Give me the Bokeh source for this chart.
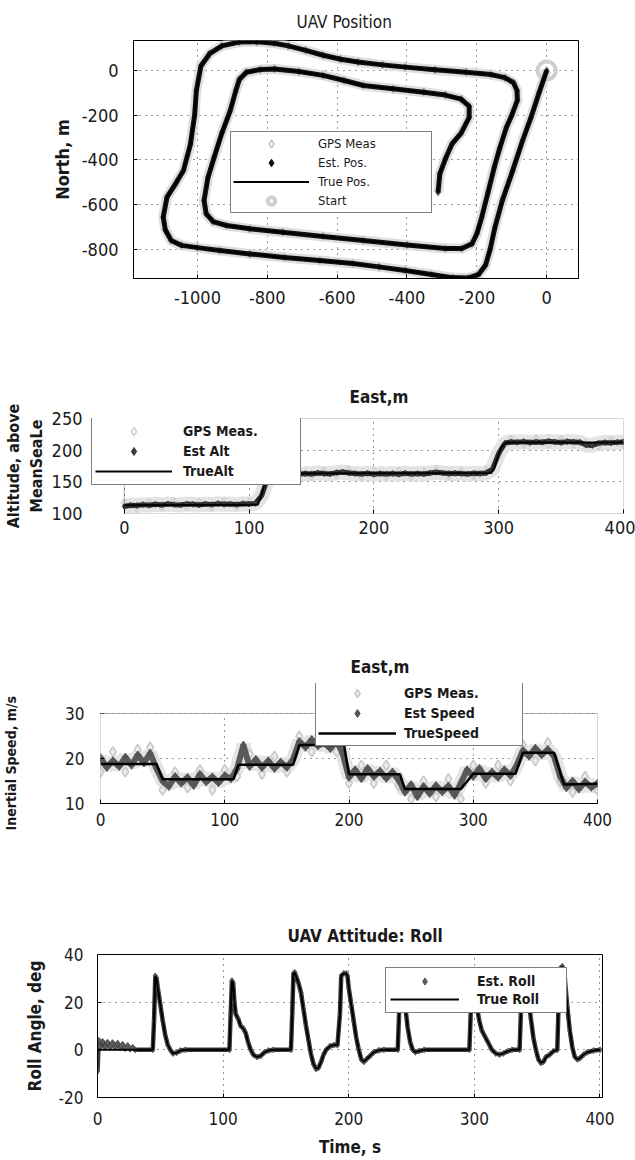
from bokeh.plotting import figure
from bokeh.models import Range1d, Legend, LegendItem, FixedTicker, BoxAnnotation
from bokeh.embed import file_html
from bokeh.resources import INLINE

FONT = "'Noto Sans Condensed', 'DejaVu Sans Condensed', 'Liberation Sans', sans-serif"
NB = "\u00a0"

# ---------------- Panel 1: UAV position (East, North in m) ----------------
pos_east = [0, -22, -45, -69, -98, -127, -148, -162, -175, -195, -225, -270, -330, -405,
            -480, -555, -650, -751, -850, -936, -1000, -1045, -1075, -1092, -1098, -1087,
            -1060, -1040, -1020, -1008, -1003, -990, -965, -930, -880, -830, -780, -740,
            -690, -640, -590, -540, -470, -405, -320, -231, -160, -120, -95, -85, -84,
            -100, -115, -135, -150, -168, -186, -200, -214, -243, -290, -400, -525, -640,
            -756, -850, -917, -955, -975, -981, -970, -952, -930, -906, -890, -880, -860,
            -820, -779, -710, -640, -580, -525, -440, -352, -290, -245, -222, -222, -245,
            -271, -290, -306, -311]
pos_north = [0, -100, -210, -313, -450, -581, -700, -800, -870, -912, -928, -926, -912, -894,
             -878, -863, -850, -836, -820, -805, -792, -782, -760, -712, -656, -566,
             -500, -447, -330, -200, -90, 20, 75, 110, 127, 128, 122, 110,
             90, 68, 50, 38, 25, 15, 3, -8, -18, -32, -55, -90, -134,
             -200, -253, -350, -432, -545, -656, -730, -775, -796, -796, -780, -760, -742,
             -723, -708, -693, -676, -640, -581, -480, -388, -280, -179, -90, -40, -8,
             4, 7, -5, -22, -45, -67, -82, -97, -110, -128, -160, -210, -280,
             -328, -395, -462, -544]
start_east = [0]
start_north = [0]
pos_xticks = [-1000, -800, -600, -400, -200, 0]
pos_yticks = [-800, -600, -400, -200, 0]

# ---------------- Panel 2: altitude ----------------
alt_t = list(range(0, 401, 5))
alt_est = [111.0, 113.0, 112.5, 114.0, 113.0, 114.5, 113.5, 115.0, 114.0, 113.5,
           115.0, 114.5, 113.5, 115.0, 114.0, 115.5, 114.5, 115.0, 114.0, 115.5,
           115.0, 116.0, 128.0, 156.0, 162.0, 163.0, 161.5, 163.5, 162.0, 163.0,
           162.5, 164.0, 163.0, 162.5, 164.5, 165.5, 164.0, 163.0, 162.5, 163.5,
           162.0, 163.0, 162.5, 163.0, 162.0, 163.5, 162.5, 163.0, 162.5, 164.0,
           165.0, 164.0, 163.0, 163.5, 163.0, 162.5, 163.5, 163.0, 164.0, 170.0,
           195.0, 211.0, 213.0, 212.5, 213.5, 212.0, 213.0, 212.5, 214.0, 213.0,
           212.0, 213.5, 213.0, 212.5, 208.0, 207.5, 211.0, 212.0, 211.5, 212.5,
           213.0]
alt_gps_t = list(range(0, 401, 10))
alt_gps = [116, 109, 117, 111, 118, 112, 117, 111, 118, 112, 118,
           131, 166, 158, 166, 159, 167, 161, 168, 159, 166,
           159, 166, 159, 166, 168, 160, 167, 160, 167, 192,
           216, 210, 217, 210, 216, 210, 211, 207, 215, 210]
alt_true_t = [0, 107, 110, 114, 118, 294, 297, 302, 306, 400]
alt_true = [113, 114, 130, 160, 163, 164, 175, 205, 212, 212]
alt_xticks = [0, 100, 200, 300, 400]
alt_yticks = [100, 150, 200, 250]

# ---------------- Panel 3: inertial speed ----------------
spd_t = list(range(0, 401, 5))
spd_est = [20.2, 18.0, 19.5, 18.2, 20.3, 18.5, 20.8, 19.0, 21.2, 17.8,
           15.0, 13.8, 16.0, 14.5, 15.8, 14.0, 16.5, 14.8, 15.9, 14.6,
           16.2, 15.5, 17.8, 23.0, 18.2, 19.8, 18.0, 19.5, 17.8, 19.2,
           18.0, 19.8, 23.8, 22.5, 24.2, 22.8, 23.5, 22.2, 24.0, 21.0,
           15.8, 17.5, 15.5, 17.8, 16.0, 17.2, 15.6, 17.0, 15.2, 12.5,
           14.2, 11.5, 13.8, 12.2, 14.0, 12.6, 13.9, 11.8, 14.5, 17.5,
           16.0, 17.8, 15.5, 17.0, 15.8, 17.5, 16.2, 18.5, 21.8, 20.5,
           22.3, 20.8, 22.0, 20.5, 16.0, 13.5, 15.0, 13.2, 14.8, 13.6,
           14.5]
spd_gps_t = list(range(0, 401, 10))
spd_gps = [17.0, 21.5, 17.0, 22.0, 22.5, 13.0, 17.0, 13.5, 17.5, 13.0, 17.5,
           16.0, 21.0, 16.5, 20.5, 17.0, 25.0, 21.5, 25.0, 21.5, 14.5,
           18.5, 14.5, 18.5, 14.0, 11.0, 15.0, 11.5, 15.5, 11.0, 18.5,
           14.5, 18.5, 15.0, 23.0, 19.5, 23.5, 15.0, 12.5, 16.0, 13.0]
spd_true_t = [0, 45, 50, 107, 111, 155, 160, 196, 200, 241, 245, 290, 300, 334, 340, 365, 373, 400]
spd_true = [18.8, 18.8, 15.4, 15.4, 18.6, 18.6, 23.0, 23.0, 16.5, 16.5, 13.2, 13.2, 16.6, 16.6,
            21.3, 21.3, 14.2, 14.4]
spd_xticks = [0, 100, 200, 300, 400]
spd_yticks = [10, 20, 30]

# ---------------- Panel 4: roll ----------------
roll_t = [0, 44, 45, 46, 47, 48, 50, 52, 54, 56, 58, 60, 63, 66, 70,
          105, 106, 107, 108, 109, 110, 112, 114, 116, 118, 120, 122, 124, 127, 130, 133, 136, 140,
          154, 155, 156, 157, 158, 160, 162, 164, 166, 168, 170, 172, 174, 176, 178, 180, 182, 185, 188, 191,
          193, 194, 196, 198, 199, 200, 202, 204, 206, 208, 210, 212, 214, 217, 220, 224, 228,
          239, 240, 241, 242, 243, 245, 247, 249, 251, 253, 256, 260,
          296, 297, 298, 299, 300, 302, 304, 306, 308, 310, 312, 314, 317, 320, 323, 327, 330,
          336, 337, 338, 339, 341, 343, 345, 347, 349, 351, 353, 355, 357, 360, 363,
          366, 367, 368, 370, 372, 374, 376, 378, 380, 382, 384, 387, 390, 395, 400]
roll_true = [0, 0, 12, 31, 30, 26, 19, 12, 6, 2, 0, -1.5, -1.2, -0.3, 0,
             0, 15, 29, 28, 20, 15, 13, 10, 9, 7, 3, 0, -2, -3, -2.5, -1, -0.3, 0,
             0, 15, 32, 32.5, 31, 28, 24, 17, 10, 4, -2, -6, -8, -7.5, -5, -2, 0, 1.5, 2, 2,
             15, 31, 32, 32, 31, 26, 19, 12, 5, 0, -4, -5, -4, -2.5, -1, -0.2, 0,
             0, 14, 28, 30, 27, 18, 9, 3, 0, -1, -0.5, 0,
             0, 14, 28, 30, 26, 18, 12, 8, 6, 4, 2, 0, -1.5, -2, -1.5, -0.5, 0,
             0, 15, 32, 33, 30, 22, 13, 5, 0, -4, -5.5, -5, -3, -2, -0.5,
             0, 18, 34, 35, 30, 18, 8, 1, -3, -4, -3.5, -2, -1, -0.3, 0]
roll_est_start_t = [0, 1, 2, 4, 6, 8, 10, 12, 14, 16, 18, 20, 22, 24, 26, 28, 30]
roll_est_start = [-9, 4, 1, 3.5, 1, 3.2, 1.2, 3, 1, 2.8, 0.8, 2.3, 0.5, 1.8, 0.3, 1, 0]
roll_xticks = [0, 100, 200, 300, 400]
roll_yticks = [-20, 0, 20, 40]

roll_est_t = roll_est_start_t + [t for t in roll_t if t > 30]
roll_est = roll_est_start + [v for t, v in zip(roll_t, roll_true) if t > 30]


def make_fig(h, xr, yr, bl, br, bt, bb, outline=True):
    p = figure(width=635, height=h, x_range=Range1d(*xr), y_range=Range1d(*yr),
               output_backend="svg", toolbar_location=None,
               min_border_left=bl, min_border_right=br, min_border_top=bt, min_border_bottom=bb)
    p.outline_line_color = "black" if outline else None
    p.outline_line_width = 1
    p.background_fill_color = "white"
    p.border_fill_color = "white"
    return p


def style_axes(p, xticks, yticks, fsize, xstand, ystand, ylabel, ylsize, ylstand):
    xa, ya = p.xaxis[0], p.yaxis[0]
    xa.ticker = FixedTicker(ticks=xticks)
    ya.ticker = FixedTicker(ticks=yticks)
    p.xgrid[0].ticker = FixedTicker(ticks=xticks)
    p.ygrid[0].ticker = FixedTicker(ticks=yticks)
    xa.major_label_overrides = {t: str(t) for t in xticks}
    ya.major_label_overrides = {t: str(t) for t in yticks}
    for ax in (xa, ya):
        ax.axis_line_color = "black"
        ax.major_tick_in = 4
        ax.major_tick_out = 0
        ax.major_tick_line_color = "black"
        ax.minor_tick_line_color = None
        ax.major_label_text_font = FONT
        ax.major_label_text_font_size = fsize
        ax.major_label_text_color = "#1a1a1a"
        ax.axis_label_text_font = FONT
        ax.axis_label_text_font_style = "bold"
        ax.axis_label_text_color = "#1a1a1a"
    xa.major_label_standoff = xstand
    ya.major_label_standoff = ystand
    ya.axis_label = ylabel
    ya.axis_label_text_font_size = ylsize
    ya.axis_label_standoff = ylstand
    for g in (p.xgrid[0], p.ygrid[0]):
        g.grid_line_color = "#333333"
        g.grid_line_dash = "1 5"
        g.grid_line_width = 1


def style_title(p, text, size, bold, offset, standoff):
    p.title.text = text
    p.title.align = "left"
    p.title.offset = offset
    p.title.standoff = standoff
    p.title.text_font = FONT
    p.title.text_font_size = size
    p.title.text_font_style = "bold" if bold else "normal"
    p.title.text_color = "#1a1a1a"


def add_legend(p, items, loc, pad, gw, gh, lw, lh, standoff, fsize, fstyle):
    leg = Legend(items=[LegendItem(label=l, renderers=[r]) for l, r in items],
                 location=loc, padding=pad, margin=0, spacing=0, level="overlay",
                 glyph_width=gw, glyph_height=gh, label_width=lw, label_height=lh,
                 label_standoff=standoff, label_text_font=FONT, label_text_font_size=fsize,
                 label_text_font_style=fstyle, label_text_color="#1a1a1a",
                 border_line_color="black", border_line_width=1,
                 background_fill_color="white", background_fill_alpha=1)
    p.add_layout(leg)


# ---------- Figure 1 ----------
p1 = make_fig(370, (-1183, 91), (-930, 134), 133, 57, 40, 92)
style_axes(p1, pos_xticks, pos_yticks, "18px", 12, 15, "North, m", "18px", 6)
style_title(p1, "UAV Position", "17px", False, 163, 17)
p1.line(pos_east, pos_north, line_color="#dedede", line_width=10, line_join="round")
r_gps1 = p1.scatter(pos_east, pos_north, marker="diamond", size=8, line_color="#b4b4b4",
                    line_width=1.2, fill_color=None)
r_start = p1.scatter(start_east, start_north, marker="circle", size=18, line_color="#cfcfcf",
                     line_width=4, fill_color=None)
p1.line(pos_east, pos_north, line_color="#111111", line_width=5, line_join="round")
r_est1 = p1.scatter(pos_east, pos_north, marker="diamond", size=5, line_color="#111111",
                    fill_color="#111111")
r_true1 = p1.line(pos_east, pos_north, line_color="black", line_width=2)
add_legend(p1, [("GPS Meas", r_gps1), ("Est. Pos.", r_est1), ("True Pos.", r_true1),
                ("Start", r_start)], (97, 65), 2, 76, 19, 111, 19, 9, "13px", "normal")

# ---------- Figure 2 (frame widened to the left so the legend can overhang the box) ----------
p2 = make_fig(270, (-26.3, 400), (100, 250), 88, 12, 48, 127, outline=False)
style_axes(p2, alt_xticks, alt_yticks, "18px", 7, 9, "Altitude, above\nMeanSeaLe", "16px", 3)
p2.xaxis[0].axis_line_color = None
p2.yaxis[0].axis_line_color = None
p2.yaxis[0].major_tick_in = 0
style_title(p2, "East,m", "17px", True, 258, 24)
p2.add_layout(BoxAnnotation(left=0, right=400, bottom=100, top=250, fill_color=None,
                            line_color="black", line_width=1))
p2.line(alt_t, alt_est, line_color="#e4e4e4", line_width=15)
r_gps2 = p2.scatter(alt_gps_t, alt_gps, marker="diamond", size=9, line_color="#d0d0d0",
                    line_width=1.5, fill_color=None)
p2.line(alt_t, alt_est, line_color="#2a2a2a", line_width=5)
r_est2 = p2.scatter(alt_t, alt_est, marker="diamond", size=6, line_color="#3a3a3a",
                    fill_color="#3a3a3a")
r_true2 = p2.line(alt_true_t, alt_true, line_color="black", line_width=2)
add_legend(p2, [("GPS Meas.", r_gps2), ("Est Alt", r_est2), ("TrueAlt", r_true2)],
           (0, 28), 3, 77, 20, 114, 20, 11, "14px", "bold")

# ---------- Figure 3 (frame extended upward so the legend can overhang the box) ----------
p3 = make_fig(250, (0, 400), (10, 36.67), 96, 38, 43, 87, outline=False)
style_axes(p3, spd_xticks, spd_yticks, "17px", 9, 16, "Inertial Speed, m/s" + NB * 9, "14px", 43)
p3.yaxis[0].axis_line_color = None
style_title(p3, "East,m", "17px", True, 250, 13)
p3.line(spd_t, spd_est, line_color="#e4e4e4", line_width=14)
r_gps3 = p3.scatter(spd_gps_t, spd_gps, marker="diamond", size=10, line_color="#c8c8c8",
                    line_width=1.5, fill_color="#ececec")
p3.line(spd_t, spd_est, line_color="#5a5a5a", line_width=6)
r_est3 = p3.scatter(spd_t, spd_est, marker="diamond", size=8, line_color="#555555",
                    fill_color="#555555")
r_true3 = p3.line(spd_true_t, spd_true, line_color="black", line_width=2.5)
p3.add_layout(BoxAnnotation(bottom=30, fill_color="white", fill_alpha=1, line_color=None))
p3.add_layout(BoxAnnotation(left=0, right=400, bottom=10, top=30, fill_color=None,
                            line_color="black", line_width=1))
add_legend(p3, [("GPS Meas.", r_gps3), ("Est Speed", r_est3), ("TrueSpeed", r_true3)],
           (215, 57), 2, 78, 20, 116, 20, 8, "14px", "bold")

# ---------- Figure 4 ----------
p4 = make_fig(270, (0, 402), (-20, 40), 97, 33, 64, 63)
style_axes(p4, roll_xticks, roll_yticks, "17px", 14, 14, "Roll Angle, deg", "17px", 11)
style_title(p4, "UAV Attitude: Roll", "17px", True, 190, 18)
p4.xaxis[0].axis_label = "Time, s"
p4.xaxis[0].axis_label_text_font_size = "17px"
p4.xaxis[0].axis_label_standoff = 9
p4.line(roll_est_t, roll_est, line_color="#3a3a3a", line_width=4.5, line_join="round")
r_est4 = p4.scatter(roll_est_t, roll_est, marker="diamond", size=6, line_color="#5a5a5a",
                    fill_color="#5a5a5a")
r_true4 = p4.line(roll_t, roll_true, line_color="black", line_width=2)
add_legend(p4, [("Est. Roll", r_est4), ("True Roll", r_true4)],
           (288, 84), 4, 69, 18, 85, 18, 18, "14px", "bold")

open("out.html", "w").write(file_html([p1, p2, p3, p4], INLINE))
